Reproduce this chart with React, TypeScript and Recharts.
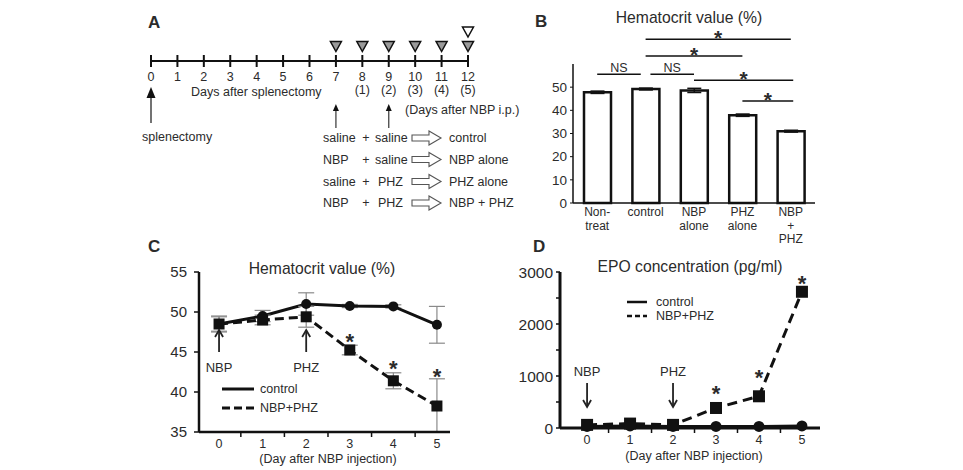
import React from 'react';
import { ComposedChart, Line, Bar, Scatter, XAxis, YAxis, ErrorBar, ReferenceLine, ReferenceDot } from 'recharts';

const FONT = '"Liberation Sans", Arial, Helvetica, sans-serif';
const INK = '#111';
const TXT = '#2b2b2b';

// ---------- Panel A (timeline) ----------
const timelineDays = [0, 1, 2, 3, 4, 5, 6, 7, 8, 9, 10, 11, 12];
const daysAfterNbp = [null, null, null, null, null, null, null, null, 1, 2, 3, 4, 5];
const injectionMarkDays = [7, 8, 9, 10, 11, 12];
const finalMarkDays = [12];
const firstInjection = ['saline', 'NBP', 'saline', 'NBP'];
const secondInjection = ['saline', 'saline', 'PHZ', 'PHZ'];
const groupNames = ['control', 'NBP alone', 'PHZ alone', 'NBP + PHZ'];

// ---------- Panel B (bar chart) ----------
const bCategories = [['Non-', 'treat'], ['control'], ['NBP', 'alone'], ['PHZ', 'alone'], ['NBP', '+', 'PHZ']];
const bValues = [47.8, 49.2, 48.6, 37.9, 31.0];
const bErrors = [0.5, 0.4, 0.9, 0.5, 0.4];
const bYTicks = [0, 10, 20, 30, 40, 50];
const bSig = [
  { from: 1, to: 4, level: 70.7, mark: '*' },
  { from: 1, to: 3, level: 63.4, mark: '*' },
  { from: 0, to: 0.9, level: 55.6, mark: 'NS' },
  { from: 1.1, to: 2, level: 55.6, mark: 'NS' },
  { from: 2, to: 4.05, level: 53.0, mark: '*' },
  { from: 3, to: 4.05, level: 44.0, mark: '*' },
];

// ---------- Panel C (hematocrit over time) ----------
const cDays = [0, 1, 2, 3, 4, 5];
const cControl = [48.5, 49.5, 51.0, 50.75, 50.7, 48.4];
const cControlErr = [0.9, 0.7, 1.4, 0.2, 0.2, 2.3];
const cNbpPhz = [48.5, 49.0, 49.4, 45.25, 41.4, 38.25];
const cNbpPhzErr: (number | number[])[] = [1.0, 0.6, 1.3, 0.6, 1.0, [3.25, 3.4]];
const cStarLevel = [null, null, null, 46.9, 43.6, 42.6];
const cXTicks = [0, 0.5, 1, 1.5, 2, 2.5, 3, 3.5, 4, 4.5, 5];
const cYTicks = [35, 40, 45, 50, 55];

// ---------- Panel D (EPO) ----------
const dDays = [0, 1, 2, 3, 4, 5];
const dControl = [30, 40, 30, 30, 30, 40];
const dNbpPhz = [60, 85, 60, 385, 610, 2620];
const dStarLevel = [null, null, null, 770, 1075, 2885];
const dXTicks = [0, 0.5, 1, 1.5, 2, 2.5, 3, 3.5, 4, 4.5, 5];
const dYTicks = [0, 500, 1000, 1500, 2000, 2500, 3000];

// annotation labels (injection days)
const injections = [
  { day: 0, name: 'NBP' },
  { day: 2, name: 'PHZ' },
];

const bData = bValues.map((v, i) => ({ idx: i, value: v, err: bErrors[i] }));
const cData = cDays.map((d, i) => ({ day: d, control: cControl[i], controlErr: cControlErr[i], nbp: cNbpPhz[i], nbpErr: cNbpPhzErr[i] }));
const dData = dDays.map((d, i) => ({ day: d, control: dControl[i], nbp: dNbpPhz[i] }));

// ---------- shapes ----------
const TimelineTick = (p: any) => {
  const { x, y, payload } = p;
  const i = timelineDays.indexOf(payload.value);
  const sub = daysAfterNbp[i];
  return (
    <g>
      <line x1={x} x2={x} y1={y - 6} y2={y + 6} stroke={INK} strokeWidth={2} />
      <text x={x} y={y + 16} textAnchor="middle" dominantBaseline="central" fontSize={12.5} fontFamily={FONT} fill={TXT}>{payload.value}</text>
      {sub != null && (
        <text x={x} y={y + 29} textAnchor="middle" dominantBaseline="central" fontSize={12.5} fontFamily={FONT} fill={TXT}>({sub})</text>
      )}
    </g>
  );
};

const makeTri = (fill: string) => (p: any) => {
  const { cx, cy } = p;
  return <path d={`M${cx - 5.5},${cy - 5} L${cx + 5.5},${cy - 5} L${cx},${cy + 5} Z`} fill={fill} stroke={INK} strokeWidth={1.5} />;
};

const SplenectomyArrow = (p: any) => {
  const { cx, cy } = p;
  return (
    <g>
      <line x1={cx} x2={cx} y1={cy + 34} y2={cy + 62} stroke="#444" strokeWidth={1.5} />
      <path d={`M${cx - 4.5},${cy + 37} L${cx + 4.5},${cy + 37} L${cx},${cy + 26} Z`} fill={INK} />
      <text x={cx - 9} y={cy + 76} dominantBaseline="central" fontSize={12.5} fontFamily={FONT} fill={TXT}>splenectomy</text>
    </g>
  );
};

const InjectionArrow = (p: any) => {
  const { cx, cy } = p;
  return (
    <g>
      <line x1={cx} x2={cx} y1={cy + 48} y2={cy + 67} stroke="#444" strokeWidth={1.3} />
      <path d={`M${cx - 3},${cy + 50} L${cx + 3},${cy + 50} L${cx},${cy + 43} Z`} fill={INK} />
    </g>
  );
};

const makeHalfTick = (labelDy: number) => (p: any) => {
  const { x, y, payload } = p;
  const v = payload.value;
  if (Number.isInteger(v)) {
    return <text x={x} y={y + labelDy} textAnchor="middle" dominantBaseline="central" fontSize={12.5} fontFamily={FONT} fill={TXT}>{v}</text>;
  }
  return <line x1={x} x2={x} y1={y} y2={y + 5} stroke={INK} strokeWidth={1.5} />;
};

const BCatTick = (p: any) => {
  const { x, y, payload } = p;
  const lines = bCategories[payload.value] || [];
  return (
    <text x={x} y={y + 13.3} textAnchor="middle" fontSize={12} fontFamily={FONT} fill={TXT}>
      {lines.map((l, k) => (
        <tspan key={k} x={x} dy={k === 0 ? 0 : 13.4}>{l}</tspan>
      ))}
    </text>
  );
};

const makeMarkText = (txt: string, size: number, bold: boolean) => (p: any) => {
  const { cx, cy } = p;
  const isStar = txt === '*';
  return (
    <text x={cx} y={isStar ? cy + size * 0.57 : cy} textAnchor="middle" dominantBaseline={isStar ? 'auto' : 'central'} fontSize={size} fontWeight={bold ? 'bold' : 'normal'} fontFamily={FONT} fill={TXT}>{txt}</text>
  );
};

const UpArrow = (name: string) => (p: any) => {
  const { cx, cy } = p;
  return (
    <g>
      <line x1={cx} x2={cx} y1={cy} y2={cy + 22} stroke="#222" strokeWidth={1.8} />
      <path d={`M${cx - 4},${cy + 7} L${cx},${cy} L${cx + 4},${cy + 7}`} fill="none" stroke="#222" strokeWidth={1.8} />
      <text x={cx} y={cy + 37} textAnchor="middle" dominantBaseline="central" fontSize={13} fontFamily={FONT} fill={TXT}>{name}</text>
    </g>
  );
};

const DownArrow = (name: string) => (p: any) => {
  const { cx, cy } = p;
  return (
    <g>
      <line x1={cx} x2={cx} y1={cy - 24} y2={cy} stroke="#222" strokeWidth={1.8} />
      <path d={`M${cx - 4},${cy - 7} L${cx},${cy} L${cx + 4},${cy - 7}`} fill="none" stroke="#222" strokeWidth={1.8} />
      <text x={cx} y={cy - 35} textAnchor="middle" dominantBaseline="central" fontSize={13} fontFamily={FONT} fill={TXT}>{name}</text>
    </g>
  );
};

const circleDot = (r: number) => (p: any) => <circle key={`c${p.index}`} cx={p.cx} cy={p.cy} r={r} fill={INK} />;
const squareDot = (s: number) => (p: any) => <rect key={`s${p.index}`} x={p.cx - s / 2} y={p.cy - s / 2} width={s} height={s} fill={INK} />;

// ---------- panels ----------
const PanelA = () => (
  <ComposedChart width={390} height={230} margin={{ top: 3, right: 52, bottom: 139, left: 21 }}>
    <XAxis type="number" dataKey="day" domain={[0, 12]} ticks={timelineDays} interval={0} tick={TimelineTick}
      tickLine={false} tickSize={0} tickMargin={0} axisLine={{ stroke: INK, strokeWidth: 2 }} height={30} />
    <YAxis type="number" dataKey="level" domain={[0, 4]} hide width={0} />
    <Scatter data={injectionMarkDays.map((d) => ({ day: d, level: 1 }))} shape={makeTri('#9a9a9a')} isAnimationActive={false} />
    <Scatter data={finalMarkDays.map((d) => ({ day: d, level: 2 }))} shape={makeTri('#ffffff')} isAnimationActive={false} />
    <ReferenceDot x={0} y={0} r={0} shape={SplenectomyArrow} ifOverflow="visible" />
    <ReferenceDot x={7} y={0} r={0} shape={InjectionArrow} ifOverflow="visible" />
    <ReferenceDot x={9} y={0} r={0} shape={InjectionArrow} ifOverflow="visible" />
  </ComposedChart>
);

const PanelB = () => (
  <ComposedChart width={320} height={245} data={bData} margin={{ top: 64, right: 25, bottom: 2, left: 23 }}>
    <XAxis type="number" dataKey="idx" domain={[-0.5, 4.5]} ticks={[0, 1, 2, 3, 4]} interval={0} tick={BCatTick}
      tickLine={false} tickSize={0} tickMargin={0} axisLine={{ stroke: INK, strokeWidth: 1.5 }} height={40} />
    <YAxis type="number" domain={[0, 60]} ticks={bYTicks} interval={0} width={30} tickSize={3} tickMargin={3}
      axisLine={{ stroke: INK, strokeWidth: 1.5 }} tickLine={{ stroke: INK }} tick={{ fill: TXT, fontSize: 13.5, fontFamily: FONT }} />
    <Bar dataKey="value" barSize={27} fill="#fff" stroke={INK} strokeWidth={2.5} isAnimationActive={false}>
      <ErrorBar dataKey="err" width={7} stroke={INK} strokeWidth={1.5} />
    </Bar>
    {bSig.map((s, i) => (
      <ReferenceLine key={`l${i}`} segment={[{ x: s.from, y: s.level }, { x: s.to, y: s.level }]} stroke={INK} strokeWidth={1.5} ifOverflow="visible" />
    ))}
    {bSig.map((s, i) => (
      <ReferenceDot key={`m${i}`} x={(s.from + s.to) / 2} y={s.level} r={0} ifOverflow="visible"
        shape={(p: any) => makeMarkText(s.mark, s.mark === '*' ? 21 : 12.5, s.mark === '*')({ ...p, cy: p.cy - 6.5 })} />
    ))}
  </ComposedChart>
);

const PanelC = () => (
  <ComposedChart width={320} height={225} data={cData} margin={{ top: 32, right: 20, bottom: 3, left: 9 }}>
    <XAxis type="number" dataKey="day" domain={[-0.46, 5.3]} ticks={cXTicks} interval={0} tick={makeHalfTick(12)}
      tickLine={false} tickSize={0} tickMargin={0} axisLine={{ stroke: INK, strokeWidth: 2.5 }} height={30} allowDataOverflow />
    <YAxis type="number" domain={[35, 55]} ticks={cYTicks} interval={0} width={40} tickSize={5} tickMargin={7}
      axisLine={{ stroke: INK, strokeWidth: 2.5 }} tickLine={{ stroke: INK, strokeWidth: 1.5 }} tick={{ fill: TXT, fontSize: 15, fontFamily: FONT }} allowDataOverflow />
    <Line dataKey="control" stroke={INK} strokeWidth={3} dot={circleDot(5)} activeDot={false} isAnimationActive={false}>
      <ErrorBar dataKey="controlErr" width={8} stroke="#8a8a8a" strokeWidth={1.2} />
    </Line>
    <Line dataKey="nbp" stroke={INK} strokeWidth={3} strokeDasharray="9 5" dot={squareDot(11)} activeDot={false} isAnimationActive={false}>
      <ErrorBar dataKey="nbpErr" width={8} stroke="#8a8a8a" strokeWidth={1.2} />
    </Line>
    {injections.map((a) => (
      <ReferenceDot key={a.name} x={a.day} y={47.75} r={0} shape={UpArrow(a.name)} ifOverflow="visible" />
    ))}
    {cStarLevel.map((lv, i) => lv == null ? null : (
      <ReferenceDot key={`st${i}`} x={cDays[i]} y={lv} r={0} shape={makeMarkText('*', 22, true)} ifOverflow="visible" />
    ))}
  </ComposedChart>
);

const PanelD = () => (
  <ComposedChart width={350} height={225} data={dData} margin={{ top: 32, right: 20, bottom: 7, left: 20 }}>
    <XAxis type="number" dataKey="day" domain={[-0.63, 5.42]} ticks={dXTicks} interval={0} tick={makeHalfTick(12)}
      tickLine={false} tickSize={0} tickMargin={0} axisLine={{ stroke: INK, strokeWidth: 3 }} height={30} allowDataOverflow />
    <YAxis type="number" domain={[0, 3000]} ticks={dYTicks} interval={0} width={50} tickSize={4} tickMargin={3}
      tickFormatter={(v: number) => (v % 1000 === 0 ? String(v) : '')}
      axisLine={{ stroke: INK, strokeWidth: 3 }} tickLine={{ stroke: INK, strokeWidth: 1.5 }} tick={{ fill: TXT, fontSize: 15.5, fontFamily: FONT }} />
    <Line dataKey="control" stroke={INK} strokeWidth={3} dot={circleDot(5.5)} activeDot={false} isAnimationActive={false} />
    <Line dataKey="nbp" stroke={INK} strokeWidth={3} strokeDasharray="10 6" dot={squareDot(12)} activeDot={false} isAnimationActive={false} />
    {injections.map((a) => (
      <ReferenceDot key={a.name} x={a.day} y={404} r={0} shape={DownArrow(a.name)} ifOverflow="visible" />
    ))}
    {dStarLevel.map((lv, i) => lv == null ? null : (
      <ReferenceDot key={`st${i}`} x={dDays[i]} y={lv} r={0} shape={makeMarkText('*', 22, true)} ifOverflow="visible" />
    ))}
  </ComposedChart>
);

const T = (props: any) => {
  const { x, y, children, size = 12.5, anchor = 'start', bold = false } = props;
  return (
    <text x={x} y={y} textAnchor={anchor} dominantBaseline="central" fontSize={size} fontWeight={bold ? 'bold' : 'normal'} fontFamily={FONT} fill={TXT}>{children}</text>
  );
};

const HollowArrow = ({ x, y }: { x: number; y: number }) => (
  <path d={`M${x},${y - 3} L${x + 17},${y - 3} L${x + 17},${y - 7} L${x + 29},${y} L${x + 17},${y + 7} L${x + 17},${y + 3} L${x},${y + 3} Z`}
    fill="#fff" stroke="#555" strokeWidth={1.1} />
);

const tableRowY = [138, 159.5, 181.5, 203];

const Overlay = () => (
  <svg width={963} height={470} style={{ position: 'absolute', left: 0, top: 0, pointerEvents: 'none' }}>
    {/* panel letters */}
    <T x={148} y={22.5} size={17} bold>A</T>
    <T x={535} y={21} size={17} bold>B</T>
    <T x={148} y={246} size={17} bold>C</T>
    <T x={533} y={246} size={17} bold>D</T>
    {/* panel A texts */}
    <T x={191} y={92}>Days after splenectomy</T>
    <T x={405} y={110}>(Days after NBP i.p.)</T>
    {tableRowY.map((y, i) => (
      <g key={i}>
        <T x={323} y={y}>{firstInjection[i]}</T>
        <T x={366} y={y} anchor="middle">+</T>
        <T x={secondInjection[i] === 'PHZ' ? 378 : 375} y={y}>{secondInjection[i]}</T>
        <HollowArrow x={412} y={y} />
        <T x={449} y={y}>{groupNames[i]}</T>
      </g>
    ))}
    {/* titles */}
    <T x={689} y={17} size={15.7} anchor="middle">Hematocrit value (%)</T>
    <T x={322} y={268} size={15.7} anchor="middle">Hematocrit value (%)</T>
    <T x={690} y={266} size={15.7} anchor="middle">EPO concentration (pg/ml)</T>
    <T x={328} y={458.5} anchor="middle">(Day after NBP injection)</T>
    <T x={694} y={456} anchor="middle">(Day after NBP injection)</T>
    {/* legend C */}
    <line x1={222} x2={254} y1={389} y2={389} stroke={INK} strokeWidth={3} />
    <T x={260} y={389}>control</T>
    <line x1={222} x2={254} y1={408} y2={408} stroke={INK} strokeWidth={3} strokeDasharray="8 4" />
    <T x={260} y={408}>NBP+PHZ</T>
    {/* legend D */}
    <line x1={627} x2={647} y1={302} y2={302} stroke={INK} strokeWidth={2.5} />
    <T x={656} y={302}>control</T>
    <line x1={627} x2={647} y1={316} y2={316} stroke={INK} strokeWidth={2.5} strokeDasharray="5 3" />
    <T x={656} y={316}>NBP+PHZ</T>
  </svg>
);

export default function App() {
  return (
    <div style={{ position: 'absolute', left: 0, top: 0, width: 963, height: 470, background: '#fff', overflow: 'hidden', fontFamily: FONT }}>
      <div style={{ position: 'absolute', left: 130, top: 0 }}><PanelA /></div>
      <div style={{ position: 'absolute', left: 520, top: 0 }}><PanelB /></div>
      <div style={{ position: 'absolute', left: 150, top: 240 }}><PanelC /></div>
      <div style={{ position: 'absolute', left: 490, top: 240 }}><PanelD /></div>
      <Overlay />
    </div>
  );
}
